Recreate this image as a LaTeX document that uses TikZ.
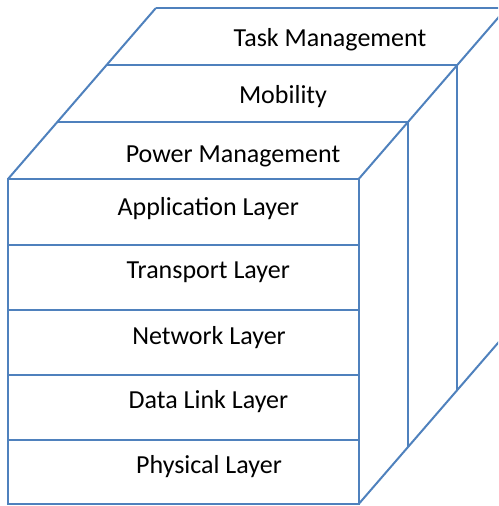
\documentclass[tikz,border=0pt]{standalone}
\usepackage{fontspec}
\setmainfont{Carlito}
\usetikzlibrary{calc}
\definecolor{edgeblue}{HTML}{4F81BD}
\tikzset{
  edge/.style={draw=edgeblue, line width=2pt, line join=miter},
  caption/.style={anchor=base, inner sep=0pt, font=\fontsize{26}{30}\selectfont, text=black}
}
\begin{document}
\begin{tikzpicture}[x=1pt, y=-1pt]
  \useasboundingbox (0,0) rectangle (498,506);
  \clip (0,0) rectangle (498,506);
  % depth offset of one slab
  \def\dx{49.3}
  \def\dy{57}
  % front face corners
  \coordinate (fl) at (8,179);
  \coordinate (fr) at (358.7,179);
  \coordinate (br) at (358.7,504);
  \coordinate (bl) at (8,504);
  % back edges of the three stacked slabs
  \foreach \k in {1,2,3}{
    \coordinate (l\k) at ($(fl)+(\k*\dx,-\k*\dy)$);
    \coordinate (r\k) at ($(fr)+(\k*\dx,-\k*\dy)$);
    \coordinate (d\k) at ($(br)+(\k*\dx,-\k*\dy)$);
  }
  % front face and its layer rows
  \draw[edge] (fl) rectangle (br);
  \foreach \y in {244.6,310.2,375.4,440.2}
    \draw[edge] (8,\y) -- (358.7,\y);
  % slab top edges
  \draw[edge] (l1) -- (r1);
  \draw[edge] (l2) -- (r2);
  \draw[edge] (l3) -- (r3);
  % left slanted edge and right slanted edges
  \draw[edge] (fl) -- (l3);
  \draw[edge] (fr) -- (r3);
  \draw[edge] (br) -- (d3);
  % vertical edges of the slabs' right sides
  \draw[edge] (r1) -- (d1);
  \draw[edge] (r2) -- (d2);
  \draw[edge] (r3) -- (d3);
  % labels
  \node[caption] (task) at (330,46.7) {Task Management};
  \node[caption] (mob) at (283,103) {Mobility};
  \node[caption] (power) at (233,162.3) {Power Management};
  \node[caption] (app) at (208.3,215) {Application Layer};
  \node[caption] (trans) at (208.3,278) {Transport Layer};
  \node[caption] (net) at (209,344) {Network Layer};
  \node[caption] (dll) at (208.5,408) {Data Link Layer};
  \node[caption] (phy) at (209,473) {Physical Layer};
\end{tikzpicture}
\end{document}
